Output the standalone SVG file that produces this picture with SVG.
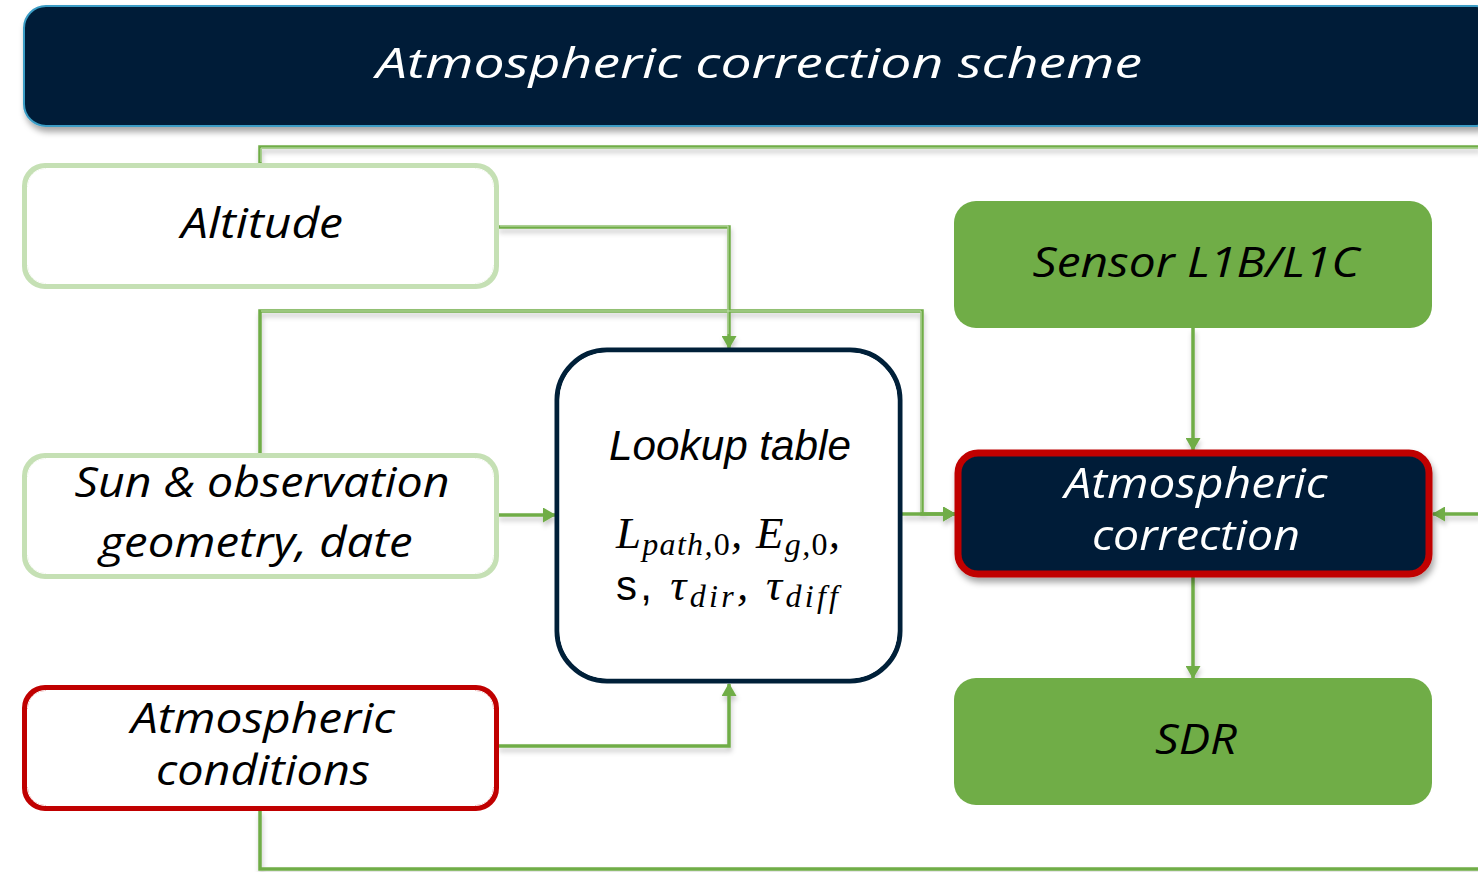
<svg xmlns="http://www.w3.org/2000/svg" width="1478" height="872" viewBox="0 0 1478 872">
<defs>
  <filter id="sh" x="-10%" y="-20%" width="120%" height="150%">
    <feDropShadow dx="2" dy="5" stdDeviation="3" flood-color="#000" flood-opacity="0.35"/>
  </filter>
  <filter id="lsh" x="-5%" y="-5%" width="110%" height="110%">
    <feDropShadow dx="1" dy="4" stdDeviation="2.5" flood-color="#000" flood-opacity="0.22"/>
  </filter>
  <marker id="ah" viewBox="0 0 13 15" refX="12" refY="7.5" markerWidth="13" markerHeight="15" markerUnits="userSpaceOnUse" orient="auto">
    <path d="M0,0 L13,7.5 L0,15 Z" fill="#70ad47"/>
  </marker>
</defs>
<style>
  .lbl{font-family:"Open Sans","DejaVu Sans",sans-serif;font-style:italic;font-size:42px;text-anchor:middle;fill:#000}
  .wl{fill:#fff}
  .conn{fill:none;stroke:#70ad47;stroke-width:3.5}
  .conn2{fill:none;stroke:#c5e0b4;stroke-width:1}
  .math{font-family:"Liberation Serif","DejaVu Serif",serif;font-style:italic;fill:#000}
</style>
<rect width="1478" height="872" fill="#fff"/>

<g id="title" filter="url(#sh)">
  <rect x="24" y="6" width="1474" height="120" rx="22" fill="#001f38" stroke="#3a9cc5" stroke-width="2"/>
  <text x="759" y="78" class="lbl wl" font-size="50" textLength="766" lengthAdjust="spacingAndGlyphs">Atmospheric correction scheme</text>
</g>

<g id="connectors">
  <g filter="url(#lsh)">
    <path class="conn" d="M260,164 V147 H1480"/>
    <path class="conn" d="M260,810 V869 H1480"/>
    <path class="conn" d="M498,227 H729 V348" marker-end="url(#ah)"/>
    <path class="conn" d="M498,515 H555" marker-end="url(#ah)"/>
    <path class="conn" d="M260,453 V311 H922 V514 H955" marker-end="url(#ah)"/>
    <path class="conn" d="M498,746 H729 V684" marker-end="url(#ah)"/>
    <path class="conn" d="M902,514 H955" marker-end="url(#ah)"/>
    <path class="conn" d="M1193,328 V450" marker-end="url(#ah)"/>
    <path class="conn" d="M1193,577 V678" marker-end="url(#ah)"/>
    <path class="conn" d="M1480,514 H1433" marker-end="url(#ah)"/>
  </g>
  <path class="conn2" d="M261,162 V148 H1480"/>
  <path class="conn2" d="M261,311 H921 V512"/>
  <path class="conn2" d="M500,226 H728 V334"/>
</g>

<g id="altitude">
  <rect x="25" y="166" width="471" height="120" rx="20" fill="#fff" stroke="#c5e0b4" stroke-width="6"/>
  <rect x="27.5" y="168.5" width="466" height="115" rx="18" fill="none" stroke="#fff" stroke-width="1"/>
  <text x="262" y="238" class="lbl" textLength="162" lengthAdjust="spacingAndGlyphs">Altitude</text>
</g>

<g id="sun-geometry">
  <rect x="25" y="456" width="471" height="120" rx="20" fill="#fff" stroke="#c5e0b4" stroke-width="6"/>
  <rect x="27.5" y="458.5" width="466" height="115" rx="18" fill="none" stroke="#fff" stroke-width="1"/>
  <text x="262" y="497" class="lbl" textLength="375" lengthAdjust="spacingAndGlyphs">Sun &amp; observation</text>
  <text x="256" y="557" class="lbl" textLength="313" lengthAdjust="spacingAndGlyphs">geometry, date</text>
</g>

<g id="atm-conditions">
  <rect x="25" y="688" width="471" height="120" rx="20" fill="#fff" stroke="#c00000" stroke-width="6"/>
  <rect x="27.5" y="690.5" width="466" height="115" rx="18" fill="none" stroke="#fff" stroke-width="1"/>
  <text x="263" y="733" class="lbl" textLength="264" lengthAdjust="spacingAndGlyphs">Atmospheric</text>
  <text x="263" y="785" class="lbl" textLength="214" lengthAdjust="spacingAndGlyphs">conditions</text>
</g>

<g id="lookup-table">
  <rect x="557" y="350" width="343" height="331" rx="50" fill="#fff" stroke="#002039" stroke-width="5"/>
  <rect x="560" y="353" width="337" height="325" rx="47" fill="none" stroke="#fff" stroke-width="1"/>
  <text x="730" y="460" font-family="Liberation Sans, Arial, sans-serif" font-style="italic" font-size="42.5" text-anchor="middle" fill="#000" textLength="242" lengthAdjust="spacingAndGlyphs">Lookup table</text>
  <text x="616" y="548" class="math" font-size="45" textLength="224" lengthAdjust="spacing">L<tspan font-size="32" dy="7">path,</tspan><tspan font-style="normal" font-size="32">0</tspan><tspan dy="-7">, E</tspan><tspan font-size="32" dy="7">g,</tspan><tspan font-style="normal" font-size="32">0</tspan><tspan dy="-7">,</tspan></text>
  <text x="616" y="600" font-size="42" fill="#000" textLength="222" lengthAdjust="spacing"><tspan font-family="Liberation Sans, Arial, sans-serif">s, </tspan><tspan class="math" font-size="45">τ</tspan><tspan class="math" font-size="32" dy="7">dir</tspan><tspan class="math" font-size="45" dy="-7">, τ</tspan><tspan class="math" font-size="32" dy="7">diff</tspan></text>
</g>

<g id="sensor">
  <rect x="954" y="201" width="478" height="127" rx="22" fill="#70ad47"/>
  <text x="1196" y="277" class="lbl" textLength="327" lengthAdjust="spacingAndGlyphs">Sensor L1B/L1C</text>
</g>

<g id="atm-correction" filter="url(#sh)">
  <rect x="958" y="453" width="471" height="121" rx="20" fill="#001f38" stroke="#c00000" stroke-width="7"/>
  <text x="1196" y="498" class="lbl wl" textLength="263" lengthAdjust="spacingAndGlyphs">Atmospheric</text>
  <text x="1196" y="550" class="lbl wl" textLength="208" lengthAdjust="spacingAndGlyphs">correction</text>
</g>

<g id="sdr">
  <rect x="954" y="678" width="478" height="127" rx="22" fill="#70ad47"/>
  <text x="1196" y="754" class="lbl" textLength="82" lengthAdjust="spacingAndGlyphs">SDR</text>
</g>
</svg>
